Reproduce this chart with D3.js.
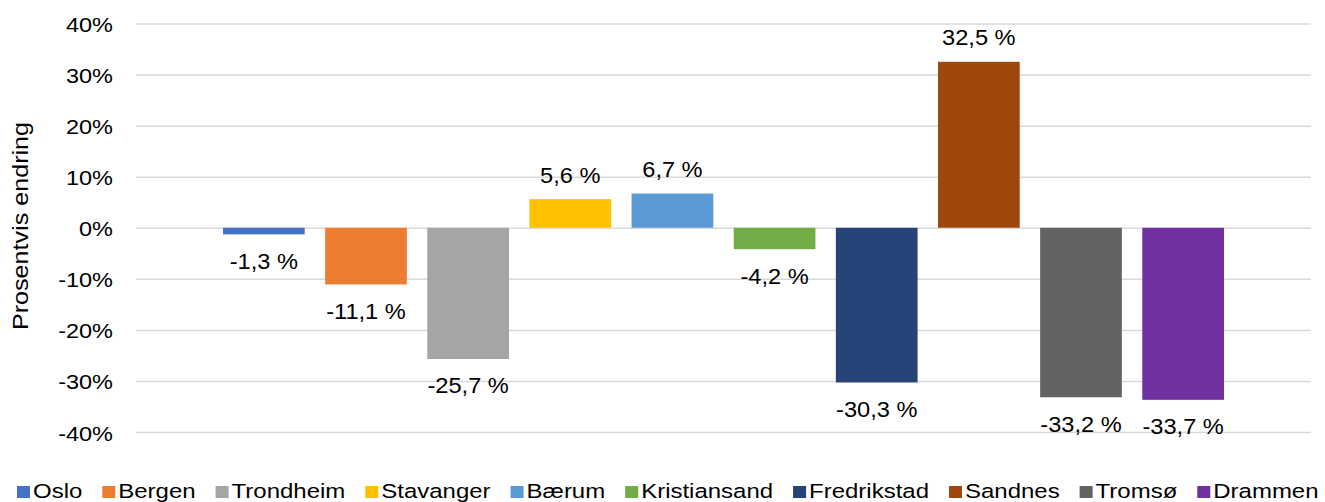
<!DOCTYPE html>
<html>
<head>
<meta charset="utf-8">
<script src="https://cdn.jsdelivr.net/npm/d3@7"></script>
<style>
  html, body { margin: 0; padding: 0; background: #fff; }
  svg { display: block; font-family: "Liberation Sans", Arial, sans-serif; }
</style>
</head>
<body>
<svg id="chart" width="1325" height="502"></svg>
<script>
const categories = ["Oslo", "Bergen", "Trondheim", "Stavanger", "Bærum", "Kristiansand", "Fredrikstad", "Sandnes", "Tromsø", "Drammen"];
const values = [-1.3, -11.1, -25.7, 5.6, 6.7, -4.2, -30.3, 32.5, -33.2, -33.7];
const colors = ["#4472C4", "#ED7D31", "#A5A5A5", "#FFC000", "#5B9BD5", "#70AD47", "#264478", "#9E480E", "#636363", "#7030A0"];
const yTicks = [-40, -30, -20, -10, 0, 10, 20, 30, 40];
const yTitle = "Prosentvis endring";

const svg = d3.select("#chart");
const plotLeft = 136, plotRight = 1311;

const y = d3.scaleLinear().domain([-40, 40]).range([432, 23.5]);
const x = d3.scaleBand().domain(categories).range([223, 1224]).paddingInner(0.2).paddingOuter(0);
const color = d3.scaleOrdinal().domain(categories).range(colors);

// gridlines + tick labels
const tickSx = 1.12;
const yAxis = d3.axisLeft(y).tickValues(yTicks).tickSize(-(plotRight - plotLeft)).tickFormat(d => d + "%");
const gy = svg.append("g").attr("transform", `translate(${plotLeft},0)`).call(yAxis);
gy.select(".domain").remove();
gy.selectAll(".tick line").attr("stroke", "#d9d9d9").attr("stroke-width", 1.5);
gy.selectAll(".tick text")
  .attr("font-size", 21)
  .attr("fill", "#000")
  .attr("font-family", "Liberation Sans, Arial, sans-serif")
  .attr("text-anchor", "end")
  .attr("dy", null)
  .attr("x", -23 / tickSx)
  .attr("y", 8)
  .attr("transform", `scale(${tickSx},1)`);

// y title
svg.append("text")
  .attr("transform", `translate(28,226) rotate(-90) scale(1.117,1)`)
  .attr("text-anchor", "middle")
  .attr("font-size", 22.5)
  .attr("fill", "#000")
  .text(yTitle);

// bars
const data = categories.map((c, i) => ({ c, v: values[i] }));
svg.append("g").selectAll("rect").data(data).join("rect")
  .attr("x", d => x(d.c))
  .attr("width", x.bandwidth())
  .attr("y", d => y(Math.max(0, d.v)))
  .attr("height", d => Math.abs(y(d.v) - y(0)))
  .attr("fill", d => color(d.c));

// data labels
const fmt = v => v.toFixed(1).replace(".", ",") + " %";
svg.append("g").selectAll("text").data(data).join("text")
  .attr("transform", d => {
    const cx = x(d.c) + x.bandwidth() / 2;
    const by = d.v >= 0 ? y(d.v) - 16.5 : y(d.v) + 34.5;
    return `translate(${cx},${by}) scale(1.05,1)`;
  })
  .attr("text-anchor", "middle")
  .attr("font-size", 22.5)
  .attr("fill", "#000")
  .text(d => fmt(d.v));

// legend
const legSx = 1.17, legFont = 20.5, sq = 13, sqGap = 3, itemGap = 20;
const leg = svg.append("g");
let lx = 17;
categories.forEach(c => {
  leg.append("rect").attr("x", lx).attr("y", 486).attr("width", sq).attr("height", 12).attr("fill", color(c));
  const t = leg.append("text")
    .attr("transform", `translate(${lx + sq + sqGap},497.7) scale(${legSx},1)`)
    .attr("font-size", legFont)
    .attr("fill", "#000")
    .text(c);
  const w = t.node().getComputedTextLength() * legSx;
  lx += sq + sqGap + w + itemGap;
});
</script>
</body>
</html>
